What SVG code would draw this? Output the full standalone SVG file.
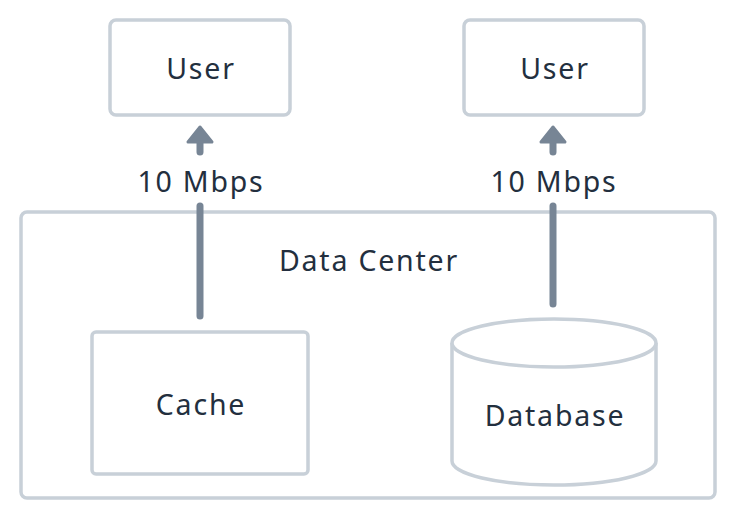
<svg xmlns="http://www.w3.org/2000/svg" width="736" height="520" viewBox="0 0 736 520">
<style>
.box{fill:#fff;stroke:#c8d0d8;stroke-width:3.5}
.lbl{font-family:"Noto Sans","DejaVu Sans",sans-serif;font-size:28.5px;fill:#232f3e;text-anchor:middle;dominant-baseline:central;letter-spacing:1.8px}
.link{stroke:#778595;stroke-width:7;stroke-linecap:round;fill:none}
.head{fill:#778595;stroke:#778595;stroke-width:3;stroke-linejoin:round}
</style>
<rect width="736" height="520" fill="#fff"/>
<g id="datacenter">
<rect class="box" x="21" y="212" width="694" height="286" rx="6"/>
<text class="lbl" x="369" y="260">Data Center</text>
</g>
<g id="user1">
<rect class="box" x="110" y="20" width="180" height="95" rx="6"/>
<text class="lbl" x="201" y="68">User</text>
</g>
<g id="user2">
<rect class="box" x="464" y="20" width="180" height="95" rx="6"/>
<text class="lbl" x="555" y="68">User</text>
</g>
<g id="cache">
<rect class="box" x="92" y="332" width="216" height="142" rx="4"/>
<text class="lbl" x="201" y="404">Cache</text>
</g>
<g id="database">
<path class="box" d="M452,343 L452,461 A102,24 0 0 0 656,461 L656,343"/>
<ellipse class="box" cx="554" cy="343" rx="102" ry="24"/>
<text class="lbl" x="555" y="415">Database</text>
</g>
<g id="connectors">
<line class="link" x1="200" y1="316" x2="200" y2="206"/>
<line class="link" x1="200" y1="152" x2="200" y2="140"/>
<path class="head" d="M200,127 L212,142 L188,142 Z"/>
<line class="link" x1="553" y1="304" x2="553" y2="206"/>
<line class="link" x1="553" y1="152" x2="553" y2="140"/>
<path class="head" d="M553,127 L565,142 L541,142 Z"/>
<text class="lbl" x="201" y="181">10 Mbps</text>
<text class="lbl" x="554" y="181">10 Mbps</text>
</g>
</svg>
